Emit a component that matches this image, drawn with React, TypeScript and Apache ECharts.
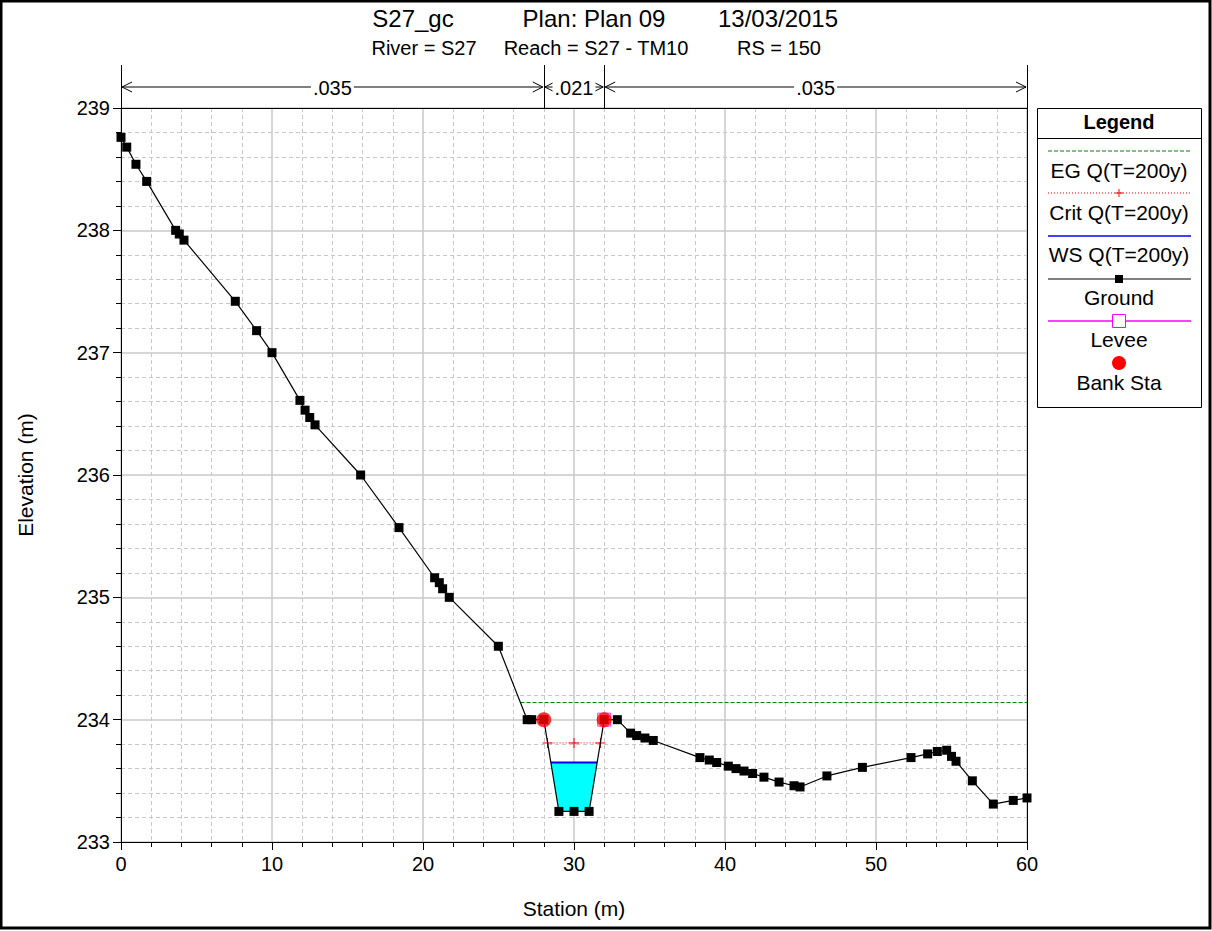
import React, { useEffect, useRef } from "react";
import * as echarts from "echarts";

// Ground profile
const stations = [0, 0.38, 0.99, 1.7, 3.62, 3.86, 4.17, 7.57, 8.98, 10.0, 11.85, 12.19, 12.5, 12.85, 15.87, 18.41, 20.77, 21.08, 21.3, 21.74, 24.99, 26.9, 27.2, 28.0, 29.0, 30.0, 31.0, 32.0, 32.87, 33.75, 34.15, 34.7, 35.25, 38.34, 38.96, 39.45, 40.22, 40.73, 41.26, 41.83, 42.58, 43.58, 44.57, 44.97, 46.75, 49.1, 52.32, 53.42, 54.06, 54.68, 55.0, 55.3, 56.38, 57.77, 59.09, 60.0];
const elevations = [238.76, 238.68, 238.54, 238.4, 238.0, 237.97, 237.92, 237.42, 237.18, 237.0, 236.61, 236.53, 236.47, 236.41, 236.0, 235.57, 235.16, 235.12, 235.07, 235.0, 234.6, 234.0, 234.0, 234.0, 233.25, 233.25, 233.25, 234.0, 234.0, 233.89, 233.87, 233.85, 233.83, 233.69, 233.67, 233.65, 233.62, 233.6, 233.58, 233.56, 233.53, 233.49, 233.46, 233.45, 233.54, 233.61, 233.69, 233.72, 233.74, 233.75, 233.7, 233.66, 233.5, 233.31, 233.34, 233.36];

const bankStations = [28.0, 32.0];
const bankElevations = [234.0, 234.0];
const leveeStations = [32.0];
const leveeElevations = [234.0];

const egStations = [26.46, 60];
const egElevations = [234.14, 234.14];
const critStations = [28.25, 30.0, 31.75];
const critElevations = [233.81, 233.81, 233.81];
const wsStations = [28.47, 31.53];
const wsElevations = [233.65, 233.65];
const waterStations = [28.47, 29.0, 30.0, 31.0, 31.53];
const waterElevations = [233.65, 233.25, 233.25, 233.25, 233.65];

const nBreaks = [0, 28, 32, 60];
const nValues = [".035", ".021", ".035"];

const legendNames = ["EG Q(T=200y)", "Crit Q(T=200y)", "WS Q(T=200y)", "Ground", "Levee", "Bank Sta"];

const titleParts = ["S27_gc", "Plan: Plan 09", "13/03/2015"];
const subtitleParts = ["River = S27", "Reach = S27 - TM10", "RS = 150"];

const X_MIN = 0, X_MAX = 60, X_INT = 10;
const Y_MIN = 233, Y_MAX = 239, Y_INT = 1;

const FONT = "'Liberation Sans', Arial, sans-serif";

const zip = (xs: number[], ys: number[]) => xs.map((x, i) => [x, ys[i]]);

export default function App() {
  const ref = useRef<HTMLDivElement>(null);
  useEffect(() => {
    document.body.style.margin = "0";
    const chart = echarts.init(ref.current!, null, { renderer: "svg" });
    const plusPath = "path://M4.5,0H5.5V4.5H10V5.5H5.5V10H4.5V5.5H0V4.5H4.5Z";
    const axisCommon = {
      type: "value",
      axisLine: { show: true, onZero: false, lineStyle: { color: "#000", width: 1 } },
      axisTick: { show: true, length: 8, lineStyle: { color: "#000" } },
      minorTick: { show: true, splitNumber: 5, length: 5, lineStyle: { color: "#000" } },
      splitLine: { show: true, lineStyle: { color: "#c8c8c8", width: 1.5 } },
      minorSplitLine: { show: true, lineStyle: { color: "#c8c8c8", width: 1, type: [4, 3] } },
      axisLabel: { color: "#000", fontSize: 20, fontFamily: FONT },
    };
    const waterData = zip(waterStations, waterElevations);
    const option: any = {
      animation: false,
      backgroundColor: "#fff",
      grid: { left: 121, right: 185, top: 108, bottom: 89, containLabel: false },
      xAxis: [
        { ...axisCommon, min: X_MIN, max: X_MAX, interval: X_INT, position: "bottom", axisLabel: { ...axisCommon.axisLabel, margin: 12 } },
        { type: "value", min: X_MIN, max: X_MAX, position: "top", axisLine: { show: true, onZero: false, lineStyle: { color: "#000" } }, axisTick: { show: false }, axisLabel: { show: false }, splitLine: { show: false } },
      ],
      yAxis: [
        { ...axisCommon, min: Y_MIN, max: Y_MAX, interval: Y_INT, position: "left", axisLabel: { ...axisCommon.axisLabel, margin: 11 } },
        { type: "value", min: Y_MIN, max: Y_MAX, position: "right", axisLine: { show: true, onZero: false, lineStyle: { color: "#000" } }, axisTick: { show: false }, axisLabel: { show: false }, splitLine: { show: false } },
      ],
      series: [
        {
          type: "custom",
          name: "Water",
          data: waterData,
          z: 1,
          renderItem: (params: any, api: any) => {
            if (params.dataIndex !== 0) return null;
            const pts = waterData.map((p) => api.coord(p));
            return { type: "polygon", shape: { points: pts }, style: { fill: "#00ffff", stroke: "none" } };
          },
        },
        { type: "line", name: "EG Q(T=200y)", data: zip(egStations, egElevations), symbol: "none", lineStyle: { color: "#008000", width: 1, type: [4, 2] }, z: 2 },
        { type: "line", name: "Crit Q(T=200y)", data: zip(critStations, critElevations), symbol: plusPath, symbolSize: 10, itemStyle: { color: "#ff0000" }, lineStyle: { color: "#ff0000", width: 1, type: [1, 2] }, z: 3 },
        { type: "line", name: "WS Q(T=200y)", data: zip(wsStations, wsElevations), symbol: "none", lineStyle: { color: "#0000ff", width: 2 }, z: 4 },
        { type: "line", name: "Ground", data: zip(stations, elevations), symbol: "rect", symbolSize: 9, itemStyle: { color: "#000" }, lineStyle: { color: "#000", width: 1.2 }, z: 5 },
        { type: "scatter", name: "Levee", data: zip(leveeStations, leveeElevations), symbol: "rect", symbolSize: 13, itemStyle: { color: "rgba(0,0,0,0)", borderColor: "#ff00ff", borderWidth: 1 }, z: 6 },
        { type: "scatter", name: "Bank Sta", data: zip(bankStations, bankElevations), symbol: "circle", symbolSize: 15, itemStyle: { color: "#ff0000" }, z: 7 },
      ],
    };
    chart.setOption(option);

    const px = (v: number) => chart.convertToPixel({ xAxisIndex: 0 }, v) as number;
    const plotTop = chart.convertToPixel({ yAxisIndex: 0 }, Y_MAX) as number;
    const arrowY = 87;
    const g: any[] = [];
    // outer border
    g.push({ type: "rect", shape: { x: 1, y: 1, width: 1209, height: 927 }, style: { fill: "none", stroke: "#000", lineWidth: 3 }, z: 100 });
    // titles
    const titleX = [413, 594, 778];
    titleParts.forEach((t, i) => g.push({ type: "text", x: titleX[i], y: 18, style: { text: t, fill: "#000", font: `24px ${FONT}`, textAlign: "center", textVerticalAlign: "middle" } }));
    const subX = [424, 596, 779];
    subtitleParts.forEach((t, i) => g.push({ type: "text", x: subX[i], y: 48, style: { text: t, fill: "#000", font: `20px ${FONT}`, textAlign: "center", textVerticalAlign: "middle" } }));
    // axis names
    g.push({ type: "text", x: 25, y: 475, rotation: Math.PI / 2, style: { text: "Elevation (m)", fill: "#000", font: `21px ${FONT}`, textAlign: "center", textVerticalAlign: "middle" } });
    g.push({ type: "text", x: 574, y: 908, style: { text: "Station (m)", fill: "#000", font: `21px ${FONT}`, textAlign: "center", textVerticalAlign: "middle" } });
    // Manning's n annotations
    nBreaks.forEach((b) => {
      const x = Math.round(px(b)) + 0.5;
      g.push({ type: "line", shape: { x1: x, y1: 65, x2: x, y2: plotTop }, style: { stroke: "#000", lineWidth: 1 } });
    });
    nValues.forEach((v, i) => {
      const xa = px(nBreaks[i]);
      const xb = px(nBreaks[i + 1]);
      g.push({ type: "line", shape: { x1: xa + 1, y1: arrowY, x2: xb - 1, y2: arrowY }, style: { stroke: "#000", lineWidth: 1 } });
      g.push({ type: "polyline", shape: { points: [[xa + 11, arrowY - 5], [xa + 1, arrowY], [xa + 11, arrowY + 5]] }, style: { stroke: "#000", fill: "none", lineWidth: 1 } });
      g.push({ type: "polyline", shape: { points: [[xb - 11, arrowY - 5], [xb - 1, arrowY], [xb - 11, arrowY + 5]] }, style: { stroke: "#000", fill: "none", lineWidth: 1 } });
      g.push({ type: "text", x: (xa + xb) / 2, y: arrowY + 1, z: 10, style: { text: v, fill: "#000", font: `20px ${FONT}`, textAlign: "center", textVerticalAlign: "middle", backgroundColor: "#fff", padding: [0, 2] } });
    });
    // legend box
    const LX = 1037, LY = 108, LW = 164, LH = 299, CX = LX + LW / 2;
    g.push({ type: "rect", shape: { x: LX + 0.5, y: LY + 0.5, width: LW, height: LH }, style: { fill: "#fff", stroke: "#000", lineWidth: 1 } });
    g.push({ type: "line", shape: { x1: LX, y1: 138.5, x2: LX + LW, y2: 138.5 }, style: { stroke: "#000", lineWidth: 1 } });
    g.push({ type: "text", x: CX, y: 122, style: { text: "Legend", fill: "#000", font: `bold 20px ${FONT}`, textAlign: "center", textVerticalAlign: "middle" } });
    const lineYs = [151, 193, 236, 279, 321, 363];
    const textYs = [170, 212, 254, 297, 339, 382];
    const x1 = LX + 11, x2 = LX + LW - 10;
    g.push({ type: "line", shape: { x1, y1: lineYs[0], x2, y2: lineYs[0] }, style: { stroke: "#008000", lineWidth: 1, lineDash: [4, 2] } });
    g.push({ type: "line", shape: { x1, y1: lineYs[1], x2, y2: lineYs[1] }, style: { stroke: "#ff0000", lineWidth: 1, lineDash: [1, 2] } });
    g.push({ type: "line", shape: { x1: CX - 4, y1: lineYs[1], x2: CX + 4, y2: lineYs[1] }, style: { stroke: "#ff0000", lineWidth: 1 } });
    g.push({ type: "line", shape: { x1: CX, y1: lineYs[1] - 4, x2: CX, y2: lineYs[1] + 4 }, style: { stroke: "#ff0000", lineWidth: 1 } });
    g.push({ type: "line", shape: { x1, y1: lineYs[2], x2, y2: lineYs[2] }, style: { stroke: "#0000ff", lineWidth: 1.5 } });
    g.push({ type: "line", shape: { x1, y1: lineYs[3], x2, y2: lineYs[3] }, style: { stroke: "#000", lineWidth: 1.2 } });
    g.push({ type: "rect", shape: { x: CX - 4, y: lineYs[3] - 4, width: 8, height: 8 }, style: { fill: "#000" } });
    g.push({ type: "line", shape: { x1, y1: lineYs[4], x2, y2: lineYs[4] }, style: { stroke: "#ff00ff", lineWidth: 1.5 } });
    g.push({ type: "rect", shape: { x: CX - 6.5, y: lineYs[4] - 6.5, width: 13, height: 13 }, style: { fill: "#fff", stroke: "#ff00ff", lineWidth: 1 } });
    g.push({ type: "circle", shape: { cx: CX, cy: lineYs[5], r: 7 }, style: { fill: "#ff0000" } });
    legendNames.forEach((n, i) => g.push({ type: "text", x: CX, y: textYs[i], style: { text: n, fill: "#000", font: `21px ${FONT}`, textAlign: "center", textVerticalAlign: "middle" } }));

    chart.setOption({ graphic: g });
    return () => chart.dispose();
  }, []);
  return <div ref={ref} style={{ position: "absolute", left: 0, top: 0, width: 1212, height: 931, background: "#fff" }} />;
}
